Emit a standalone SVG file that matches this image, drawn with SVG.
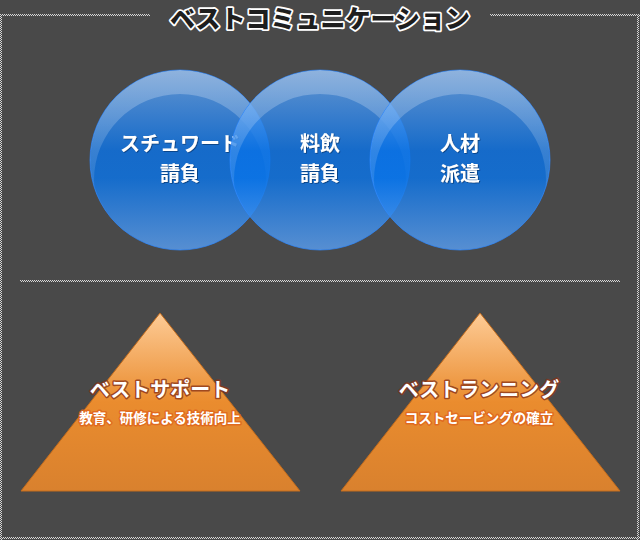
<svg xmlns="http://www.w3.org/2000/svg" width="640" height="540" viewBox="0 0 640 540">
  <defs>
    <pattern id="chk" width="2" height="2" patternUnits="userSpaceOnUse">
      <rect width="1" height="1" fill="#d6d6d6"/>
      <rect x="1" y="1" width="1" height="1" fill="#d6d6d6"/>
    </pattern>
    <linearGradient id="blue" x1="0" y1="0" x2="0" y2="1">
      <stop offset="0" stop-color="#6aa6ee"/>
      <stop offset="0.45" stop-color="#0a72e6"/>
      <stop offset="0.6" stop-color="#0a74e8"/>
      <stop offset="1" stop-color="#5a9ef0"/>
    </linearGradient>
    <linearGradient id="gloss" x1="0" y1="0" x2="0" y2="1">
      <stop offset="0" stop-color="#ffffff" stop-opacity="0.28"/>
      <stop offset="0.5" stop-color="#ffffff" stop-opacity="0.12"/>
      <stop offset="1" stop-color="#ffffff" stop-opacity="0"/>
    </linearGradient>
    <linearGradient id="orange" x1="0" y1="0" x2="0" y2="1">
      <stop offset="0" stop-color="#fdcb96"/>
      <stop offset="0.5" stop-color="#ea8c2e"/>
      <stop offset="1" stop-color="#d9812e"/>
    </linearGradient>
    <filter id="shadow" x="-10%" y="-20%" width="120%" height="140%">
      <feDropShadow dx="0.8" dy="0.8" stdDeviation="0.6" flood-color="#06285a" flood-opacity="0.7"/>
    </filter>
    <clipPath id="c1"><circle cx="180" cy="160" r="90"/></clipPath>
    <clipPath id="c2"><circle cx="320" cy="160" r="90"/></clipPath>
    <clipPath id="c3"><circle cx="460" cy="160" r="90"/></clipPath>
    <style>
      .ball{fill:url(#blue);fill-opacity:0.82;stroke:#2b86ff;stroke-opacity:0.7;stroke-width:1}
      .gloss{fill:url(#gloss);fill-rule:evenodd}
      .ctext{font-family:"Noto Sans CJK JP","Noto Sans CJK SC",sans-serif;font-weight:bold;font-size:20px;fill:#ffffff;text-anchor:middle;filter:url(#shadow)}
      .tri{fill:url(#orange);stroke:#c46c1c;stroke-width:1}
      .ttitle{font-family:"Noto Sans CJK JP","Noto Sans CJK SC",sans-serif;font-weight:bold;font-size:20px;fill:#ffffff;text-anchor:middle;stroke:#8a3418;stroke-width:3;stroke-opacity:0.8;stroke-linejoin:round;paint-order:stroke}
      .tsub{font-family:"Noto Sans CJK JP","Noto Sans CJK SC",sans-serif;font-weight:bold;font-size:13.5px;fill:#ffffff;text-anchor:middle;stroke:#e0651c;stroke-width:3;stroke-opacity:0.85;stroke-linejoin:round;paint-order:stroke}
      .title{font-family:"Noto Sans CJK JP","Noto Sans CJK SC",sans-serif;font-weight:900;font-size:25px;fill:#1e1e1e;text-anchor:middle;stroke:#ffffff;stroke-width:3.5;stroke-linejoin:round;paint-order:stroke}
    </style>
  </defs>
  <rect width="640" height="540" fill="#494949"/>
  <g id="frame">
    <rect x="0" y="14" width="150" height="2" fill="url(#chk)"/>
    <rect x="490" y="14" width="150" height="2" fill="url(#chk)"/>
    <rect x="0" y="14" width="2" height="526" fill="url(#chk)"/>
    <rect x="637" y="14" width="2" height="526" fill="url(#chk)"/>
    <rect x="0" y="537" width="640" height="2" fill="url(#chk)"/>
    <rect x="20" y="280" width="600" height="2" fill="url(#chk)"/>
  </g>
  <g id="title">
    <text class="title" x="320" y="28">ベストコミュニケーション</text>
  </g>
  <g id="circle-steward">
    <circle class="ball" cx="180" cy="160" r="90"/>
    <path class="gloss" clip-path="url(#c1)" d="M90,160 a90,90 0 1,1 180,0 a90,90 0 1,1 -180,0 Z M94,180 a86,86 0 1,1 172,0 a86,86 0 1,1 -172,0 Z"/>
    <text class="ctext" x="180" y="151">スチュワード</text>
    <text class="ctext" x="180" y="181">請負</text>
  </g>
  <g id="circle-food">
    <circle class="ball" cx="320" cy="160" r="90"/>
    <path class="gloss" clip-path="url(#c2)" d="M230,160 a90,90 0 1,1 180,0 a90,90 0 1,1 -180,0 Z M234,180 a86,86 0 1,1 172,0 a86,86 0 1,1 -172,0 Z"/>
    <text class="ctext" x="320" y="151">料飲</text>
    <text class="ctext" x="320" y="181">請負</text>
  </g>
  <g id="circle-staffing">
    <circle class="ball" cx="460" cy="160" r="90"/>
    <path class="gloss" clip-path="url(#c3)" d="M370,160 a90,90 0 1,1 180,0 a90,90 0 1,1 -180,0 Z M374,180 a86,86 0 1,1 172,0 a86,86 0 1,1 -172,0 Z"/>
    <text class="ctext" x="460" y="151">人材</text>
    <text class="ctext" x="460" y="181">派遣</text>
  </g>
  <g id="connectors"></g>
  <g id="tri-support">
    <polygon class="tri" points="160,313 300,491 21,491"/>
    <text class="ttitle" x="160" y="397">ベストサポート</text>
    <text class="tsub" x="160" y="423">教育、研修による技術向上</text>
  </g>
  <g id="tri-training">
    <polygon class="tri" points="480,313 620,491 341,491"/>
    <text class="ttitle" x="479" y="397">ベストランニング</text>
    <text class="tsub" x="479" y="423">コストセービングの確立</text>
  </g>
</svg>
